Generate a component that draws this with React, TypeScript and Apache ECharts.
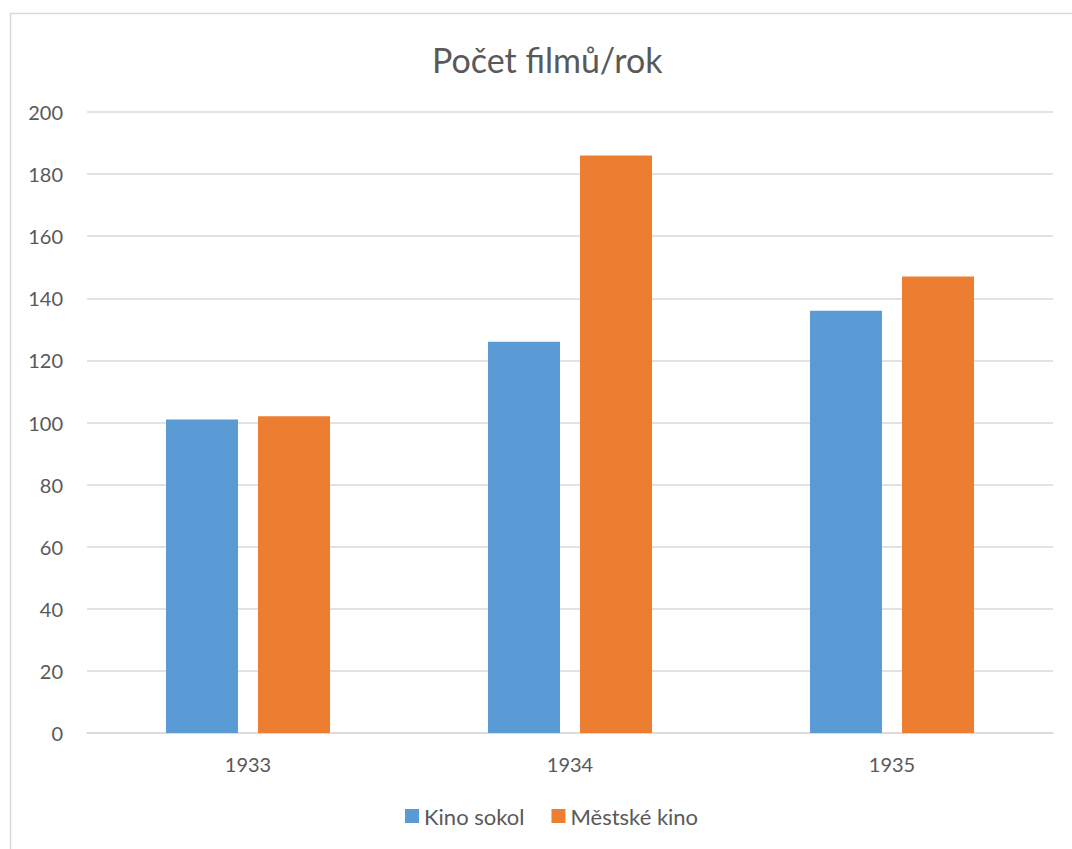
import React, { useEffect, useRef } from "react";
import * as echarts from "echarts";

const categories = ["1933", "1934", "1935"];
const kinoSokol = [101, 126, 136];
const mestskeKino = [102, 186, 147];
const seriesNames = ["Kino sokol", "Městské kino"];
const titleText = "Počet filmů/rok";

const FONT = "Lato, 'Open Sans', sans-serif";
const TXT = "#595959";

export default function App() {
  const ref = useRef<HTMLDivElement>(null);
  useEffect(() => {
    if (!ref.current) return;
    const chart = echarts.init(ref.current, null, { renderer: "svg" });
    chart.setOption({
      animation: false,
      backgroundColor: "#ffffff",
      textStyle: { fontFamily: FONT },
      title: {
        text: titleText,
        left: 427,
        top: 37,
        textStyle: { fontSize: 34, fontWeight: "normal", color: TXT, fontFamily: FONT },
      },
      graphic: [
        {
          type: "rect",
          shape: { x: 10.5, y: 13.5, width: 1070, height: 850 },
          style: { fill: "none", stroke: "#d9d9d9", lineWidth: 1.5 },
          silent: true,
        },
      ],
      legend: {
        bottom: 17,
        left: 400,
        itemWidth: 14,
        itemHeight: 14,
        itemGap: 27,
        icon: "rect",
        textStyle: { fontSize: 22, color: TXT, fontFamily: FONT },
        data: seriesNames,
      },
      grid: { left: 87, right: 19, top: 112, bottom: 116 },
      xAxis: {
        type: "category",
        data: categories,
        axisLine: { lineStyle: { color: "#d9d9d9", width: 1.5 } },
        axisTick: { show: false },
        axisLabel: { fontSize: 20, color: TXT, margin: 21, fontFamily: FONT },
      },
      yAxis: {
        type: "value",
        min: 0,
        max: 200,
        interval: 20,
        axisLine: { show: false },
        axisTick: { show: false },
        splitLine: { lineStyle: { color: "#d9d9d9", width: 1.5 } },
        axisLabel: { fontSize: 20, color: TXT, margin: 24, fontFamily: FONT },
      },
      series: [
        {
          name: seriesNames[0],
          type: "bar",
          data: kinoSokol,
          barWidth: 72,
          barGap: "27.8%",
          itemStyle: { color: "#5b9bd5" },
        },
        {
          name: seriesNames[1],
          type: "bar",
          data: mestskeKino,
          barWidth: 72,
          itemStyle: { color: "#ed7d31" },
        },
      ],
    });
    return () => chart.dispose();
  }, []);
  return (
    <div
      ref={ref}
      style={{ position: "fixed", left: 0, top: 0, width: 1072, height: 849 }}
    />
  );
}
